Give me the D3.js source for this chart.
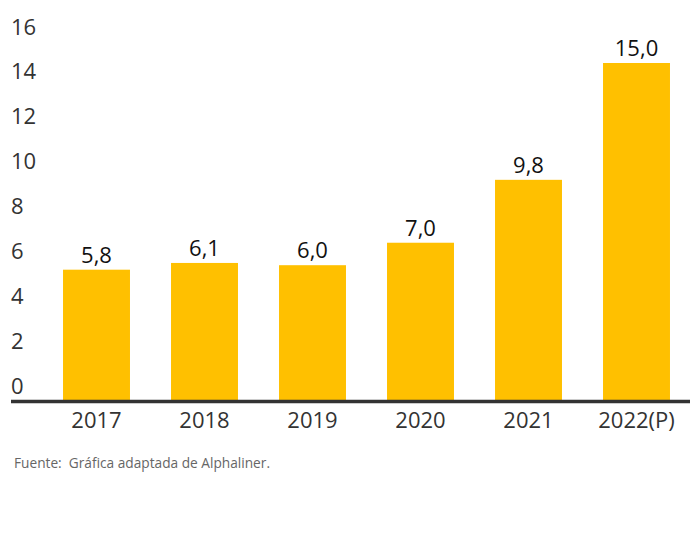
<!DOCTYPE html>
<html>
<head>
<meta charset="utf-8">
<script src="https://cdn.jsdelivr.net/npm/d3@7"></script>
<style>
  body { margin: 0; background: #fff; }
  text { font-family: "Open Sans", "Noto Sans", sans-serif; }
</style>
</head>
<body>
<div id="chart"></div>
<script>
// datos
var years = ["2017", "2018", "2019", "2020", "2021", "2022(P)"];
var values = [5.8, 6.1, 6.0, 7.0, 9.8, 15.0];
var valueLabels = ["5,8", "6,1", "6,0", "7,0", "9,8", "15,0"];
var yTicks = [0, 2, 4, 6, 8, 10, 12, 14, 16];

var width = 690, height = 534;

var svg = d3.select("#chart").append("svg")
    .attr("width", width)
    .attr("height", height);

var x = d3.scaleBand()
    .domain(years)
    .range([42.5, 690.5])
    .paddingInner(0.38)
    .paddingOuter(0.19);

var y = d3.scaleLinear()
    .domain([0, 15])
    .range([400, 63]);

// etiquetas del eje y
svg.selectAll(".ytick")
    .data(yTicks)
    .enter().append("text")
    .attr("class", "ytick")
    .attr("x", 11)
    .attr("y", function(d) { return y(d) - 6; })
    .attr("font-size", 22)
    .attr("fill", "#333")
    .text(function(d) { return d; });

// barras
svg.selectAll(".bar")
    .data(values)
    .enter().append("rect")
    .attr("class", "bar")
    .attr("x", function(d, i) { return x(years[i]); })
    .attr("y", function(d) { return y(d); })
    .attr("width", x.bandwidth())
    .attr("height", function(d) { return y(0) - y(d); })
    .attr("fill", "#FFC000");

// valores sobre las barras
svg.selectAll(".val")
    .data(values)
    .enter().append("text")
    .attr("class", "val")
    .attr("x", function(d, i) { return x(years[i]) + x.bandwidth() / 2; })
    .attr("y", function(d) { return y(d) - 7; })
    .attr("text-anchor", "middle")
    .attr("font-size", 22)
    .attr("fill", "#111")
    .text(function(d, i) { return valueLabels[i]; });

// linea base
svg.append("line")
    .attr("x1", 11)
    .attr("x2", 690)
    .attr("y1", y(0) + 1.5)
    .attr("y2", y(0) + 1.5)
    .attr("stroke", "#333")
    .attr("stroke-width", 3.5);

// etiquetas del eje x
svg.selectAll(".xtick")
    .data(years)
    .enter().append("text")
    .attr("class", "xtick")
    .attr("x", function(d) { return x(d) + x.bandwidth() / 2; })
    .attr("y", 428)
    .attr("text-anchor", "middle")
    .attr("font-size", 22)
    .attr("fill", "#333")
    .text(function(d) { return d; });

// fuente
svg.append("text")
    .attr("x", 14)
    .attr("y", 468)
    .attr("font-size", 13.7)
    .attr("fill", "#666")
    .attr("xml:space", "preserve")
    .text("Fuente:  Gráfica adaptada de Alphaliner.");
</script>
</body>
</html>
